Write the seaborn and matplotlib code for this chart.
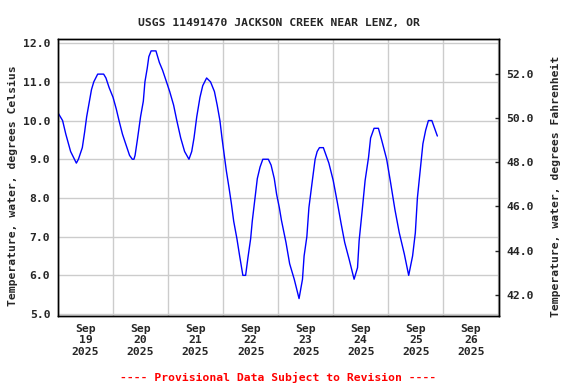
import numpy as np
import pandas as pd
import matplotlib
matplotlib.use("Agg")
import matplotlib.pyplot as plt
import matplotlib.dates as mdates
from matplotlib.ticker import FixedLocator, FormatStrFormatter
import seaborn as sns

# hours after 2025-09-19 00:00 and water temperature (deg C)
hours = [0, 2, 3.4, 5.5, 8, 8.9, 10.6, 11.6, 12.5, 13.4, 14.6, 15.6, 17.3, 19.9,
         20.9, 22.3, 24, 25.4, 26.6, 28.1, 29.5, 31.2, 32.4, 33.1, 33.6, 34.6, 36,
         37.2, 37.9, 38.9, 39.6, 40.6, 42.7, 44.2, 45.6, 47.3, 48.7, 50.4, 51.8,
         53.5, 55.2, 57.1, 58.3, 59.3, 60.5, 61.9, 63.1, 64.8, 66.5, 68.2, 69.4,
         70.6, 71.5, 72.5, 73.4, 74.6, 75.6, 76.6, 78, 79.2, 80.6, 81.8, 82.8, 84,
         84.7, 85.9, 86.9, 88.1, 89.3, 91.7, 92.9, 94.3, 95.3, 96.5, 97.4, 99.4,
         101, 103, 105.1, 106.6, 107.3, 108.5, 109.4, 110.9, 112.1, 113, 114,
         115.7, 116.6, 118.1, 120, 121.9, 123.4, 125, 127, 129.1, 130.6, 131.3,
         132.5, 133.9, 135.4, 136.3, 137.8, 139.7, 141.1, 143.3, 145, 146.9,
         148.8, 151, 152.9, 154.6, 155.8, 156.7, 157.9, 159.1, 160.3, 161.5, 163,
         163.9, 165.4]
temp_c = [10.2, 10.0, 9.65, 9.2, 8.9, 9.0, 9.3, 9.7, 10.1, 10.4, 10.8, 11.0, 11.2, 11.2,
          11.1, 10.85, 10.6, 10.3, 10.0, 9.65, 9.4, 9.1, 9.0, 9.0, 9.1, 9.5, 10.1,
          10.5, 11.0, 11.35, 11.65, 11.8, 11.8, 11.5, 11.3, 11.0, 10.75, 10.4, 10.0,
          9.55, 9.2, 9.0, 9.2, 9.55, 10.1, 10.6, 10.9, 11.1, 11.0, 10.75, 10.4,
          10.0, 9.55, 9.1, 8.7, 8.25, 7.85, 7.4, 6.95, 6.5, 6.0, 6.0, 6.45, 6.95,
          7.4, 8.0, 8.5, 8.8, 9.0, 9.0, 8.85, 8.5, 8.1, 7.75, 7.43, 6.85,
          6.3, 5.9, 5.4, 5.9, 6.5, 7.0, 7.75, 8.45, 9.0, 9.2, 9.3,
          9.3, 9.15, 8.9, 8.45, 7.85, 7.35, 6.85, 6.4, 5.9, 6.2, 6.9,
          7.6, 8.45, 9.05, 9.55, 9.8, 9.8, 9.5, 9.0, 8.4, 7.7,
          7.1, 6.55, 6.0, 6.5, 7.1, 8.0, 8.7, 9.4, 9.75, 10.0, 10.0,
          9.85, 9.6]

c_ticks = [5, 6, 7, 8, 9, 10, 11, 12]
f_ticks = [42, 44, 46, 48, 50, 52]

start = pd.Timestamp("2025-09-19 00:00")
df = pd.DataFrame({"time": start + pd.to_timedelta(hours, unit="h"), "temp": temp_c})

sns.set_style("white")
plt.rcParams["font.family"] = ["DejaVu Sans Mono"]
plt.rcParams["font.weight"] = "bold"
fs = 8.2

fig = plt.figure(figsize=(5.76, 3.84), dpi=100)
ax = fig.add_axes([0.1007, 0.1771, 0.7661, 0.7206])

sns.lineplot(data=df, x="time", y="temp", ax=ax, color="#0000ff", linewidth=1.0)

ax.set_ylim(4.95, 12.10)
ax.yaxis.set_major_locator(FixedLocator(c_ticks))
ax.yaxis.set_major_formatter(FormatStrFormatter("%.1f"))
ax.set_xlim(start, start + pd.Timedelta(hours=192.4))
ax.xaxis.set_major_locator(mdates.DayLocator())
ax.xaxis.set_major_formatter(plt.NullFormatter())
ax.xaxis.set_minor_locator(mdates.HourLocator(byhour=12))
ax.xaxis.set_minor_formatter(mdates.DateFormatter("%b\n%d\n%Y"))
ax.grid(True, which="major", color="#cccccc", linewidth=1.0)
ax.set_axisbelow(True)
ax.tick_params(axis="x", which="both", length=0, pad=5.5, labelsize=fs)
ax.tick_params(axis="y", length=0, pad=5.5, labelsize=fs)
for lab in ax.get_xticklabels(minor=True):
    lab.set_fontweight("bold")
for sp in ax.spines.values():
    sp.set_color("black")
    sp.set_linewidth(1.0)
ax.set_xlabel("")
ax.set_ylabel("Temperature, water, degrees Celsius", fontsize=fs, fontweight="bold")
ax.yaxis.set_label_coords(-0.09, 0.47)

ax2 = ax.twinx()
ax2.set_ylim(41.04, 53.56)
ax2.yaxis.set_major_locator(FixedLocator(f_ticks))
ax2.yaxis.set_major_formatter(FormatStrFormatter("%.1f"))
ax2.tick_params(axis="y", direction="in", length=3, width=1, pad=5, labelsize=fs)
ax2.grid(False)
ax2.set_ylabel("Temperature, water, degrees Fahrenheit", fontsize=fs, fontweight="bold")
ax2.yaxis.set_label_coords(1.117, 0.47)
for sp in ax2.spines.values():
    sp.set_color("black")
    sp.set_linewidth(1.0)

ax.set_title("USGS 11491470 JACKSON CREEK NEAR LENZ, OR", fontsize=fs,
             fontweight="bold", pad=9.6)
fig.text(0.483, 1 - 381 / 384, "---- Provisional Data Subject to Revision ----",
         color="#ff0000", fontsize=fs, fontweight="bold", ha="center", va="baseline")

fig.savefig("out.png", dpi=100)
